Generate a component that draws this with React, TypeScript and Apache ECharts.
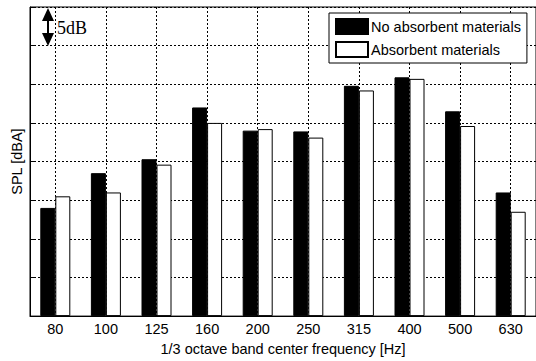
import React, { useEffect, useRef } from "react";
import * as echarts from "echarts";

const categories = ["80", "100", "125", "160", "200", "250", "315", "400", "500", "630"];
const noAbsorbent = [14.0, 18.5, 20.3, 27.0, 24.0, 23.9, 29.8, 30.9, 26.5, 16.0];
const absorbent = [15.5, 16.0, 19.6, 25.0, 24.2, 23.1, 29.2, 30.7, 24.6, 13.5];
const seriesNames = ["No absorbent materials", "Absorbent materials"];
const xName = "1/3 octave band center frequency [Hz]";
const yName = "SPL [dBA]";
const annotationText = "5dB";

export default function App() {
  const ref = useRef<HTMLDivElement>(null);
  useEffect(() => {
    document.body.style.margin = "0";
    const chart = echarts.init(ref.current!, null, { renderer: "svg" });
    const font = "Liberation Sans, Arial, sans-serif";
    const grid = { left: 30, top: 7, right: -3, bottom: 43 };
    // half-step helper axis so vertical grid lines pass through category centres
    const halfSteps: string[] = [];
    categories.forEach((c, i) => {
      halfSteps.push("b" + i);
      halfSteps.push(c);
    });
    halfSteps.push("b" + categories.length);
    chart.setOption({
      animation: false,
      backgroundColor: "#fff",
      grid: { ...grid, show: true, borderColor: "#000", borderWidth: 1, backgroundColor: "#fff" },
      legend: {
        orient: "vertical",
        left: 329,
        top: 13,
        padding: [5, 6, 5, 6],
        itemWidth: 32,
        itemHeight: 15,
        itemGap: 6,
        icon: "rect",
        backgroundColor: "#fff",
        borderColor: "#000",
        borderWidth: 1,
        textStyle: { fontFamily: font, fontSize: 14.5, color: "#000", padding: [0, 0, 0, -2] },
        data: seriesNames,
      },
      xAxis: [
        {
          type: "category",
          data: categories,
          name: xName,
          nameLocation: "middle",
          nameGap: 24,
          nameTextStyle: { fontFamily: font, fontSize: 14.5, color: "#000" },
          axisLine: { lineStyle: { color: "#000", width: 1 } },
          axisTick: { inside: true, alignWithLabel: true, length: 4, lineStyle: { color: "#000" } },
          axisLabel: { fontFamily: font, fontSize: 14.5, color: "#000", margin: 5 },
          splitLine: { show: false },
          z: 3,
        },
        {
          type: "category",
          data: halfSteps,
          boundaryGap: false,
          position: "bottom",
          axisLine: { show: false },
          axisTick: { show: false },
          axisLabel: { show: false },
          splitLine: {
            show: true,
            interval: (index: number) => index % 2 === 1,
            lineStyle: { color: "#000", type: [2, 2], width: 1 },
          },
        },
      ],
      yAxis: {
        type: "value",
        min: 0,
        max: 40,
        interval: 5,
        name: yName,
        nameLocation: "middle",
        nameGap: 6,
        nameTextStyle: { fontFamily: font, fontSize: 14.5, color: "#000" },
        axisLine: { show: true, lineStyle: { color: "#000", width: 1 } },
        axisTick: { show: true, inside: true, length: 4, lineStyle: { color: "#000" } },
        axisLabel: { show: false },
        splitLine: { show: true, lineStyle: { color: "#000", type: [2, 2], width: 1 } },
      },
      series: [
        {
          name: seriesNames[0],
          type: "bar",
          xAxisIndex: 0,
          data: noAbsorbent,
          barWidth: 15,
          barGap: "0%",
          itemStyle: { color: "#000", borderColor: "#000", borderWidth: 1 },
        },
        {
          name: seriesNames[1],
          type: "bar",
          xAxisIndex: 0,
          data: absorbent,
          barWidth: 15,
          barGap: "0%",
          itemStyle: { color: "#fff", borderColor: "#000", borderWidth: 1 },
        },
      ],
      graphic: [
        { type: "polygon", shape: { points: [[48, 8], [42, 21], [54, 21]] }, style: { fill: "#000" } },
        { type: "polygon", shape: { points: [[48, 46], [42, 33], [54, 33]] }, style: { fill: "#000" } },
        { type: "line", shape: { x1: 48, y1: 20, x2: 48, y2: 34 }, style: { stroke: "#000", lineWidth: 2 } },
        {
          type: "text",
          x: 57,
          y: 28,
          style: {
            text: annotationText,
            fontFamily: "Liberation Serif, Times New Roman, serif",
            fontSize: 18,
            fill: "#000",
            verticalAlign: "middle",
          },
        },
      ],
    });
    return () => chart.dispose();
  }, []);
  return <div ref={ref} style={{ width: 536, height: 361 }} />;
}
